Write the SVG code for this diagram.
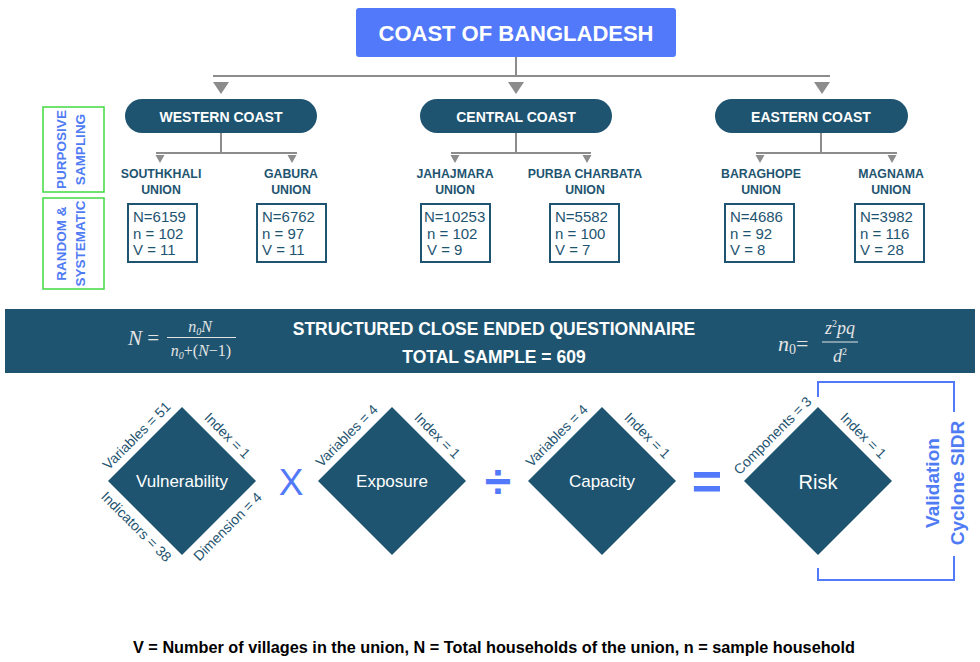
<svg xmlns="http://www.w3.org/2000/svg" width="980" height="662" viewBox="0 0 980 662">
<defs>
<style>
text{font-family:"Liberation Sans",Arial,sans-serif}
.b{font-weight:bold}
.pill{fill:#1E5470}
.pilltxt{fill:#fff;font-size:14px;font-weight:bold;text-anchor:middle}
.uni{fill:#1E5470;font-size:12.3px;font-weight:bold;text-anchor:middle}
.box{fill:#fff;stroke:#1E5470;stroke-width:2}
.boxtxt{fill:#1E5470;font-size:15px}
.gbox{fill:none;stroke:#4CDB4C;stroke-width:1.6}
.gtxt{fill:#4F7BF5;font-size:13.5px;font-weight:bold;text-anchor:middle;dominant-baseline:central}
.vtxt{fill:#4F7BF5;font-size:19px;font-weight:bold;text-anchor:middle;dominant-baseline:central}
.con{stroke:#8C8C8C;stroke-width:2;fill:none}
.tri{fill:#8C8C8C}
.dia{fill:#1E5470}
.dtxt{fill:#fff;font-size:17px;text-anchor:middle}
.risktxt{fill:#fff;font-size:20px;text-anchor:middle}
.edge{fill:#1E5470;font-size:14px;text-anchor:middle;dominant-baseline:central}
.op{fill:#5279F9;text-anchor:middle;dominant-baseline:central}
.math{font-family:"Liberation Serif","Times New Roman",serif;font-style:italic;fill:#E4E4E4}
.blue{stroke:#5279F9;stroke-width:2;fill:none}
</style>
<path id="bigtri" d="M-8,0 L8,0 L0,12 Z"/>
<path id="smtri" d="M-4.5,0 L4.5,0 L0,8 Z"/>
</defs>
<rect width="980" height="662" fill="#fff"/>

<g id="connectors">
<path class="con" d="M516,57 V76 M213,76 H830"/>
<use href="#bigtri" class="tri" x="221" y="82"/>
<use href="#bigtri" class="tri" x="516" y="82"/>
<use href="#bigtri" class="tri" x="822" y="82"/>
<path class="con" d="M221,133 V153 M156,153 H297"/>
<use href="#smtri" class="tri" x="160" y="155"/>
<use href="#smtri" class="tri" x="292" y="155"/>
<path class="con" d="M516,133 V153 M451,153 H591"/>
<use href="#smtri" class="tri" x="455" y="155"/>
<use href="#smtri" class="tri" x="587" y="155"/>
<path class="con" d="M821,133 V153 M756,153 H897"/>
<use href="#smtri" class="tri" x="760" y="155"/>
<use href="#smtri" class="tri" x="892" y="155"/>
<path class="blue" d="M818,397 V382 H954 V412 M954,556 V580 H818 V568"/>
</g>

<g id="title">
<rect x="356" y="8" width="320" height="49" rx="3" fill="#5279F9"/>
<text x="516" y="41" class="b" font-size="22" fill="#fff" text-anchor="middle">COAST OF BANGLADESH</text>
</g>

<g id="western-coast">
<rect class="pill" x="125" y="99" width="192" height="34" rx="17"/>
<text class="pilltxt" x="221" y="121.5">WESTERN COAST</text>
</g>
<g id="central-coast">
<rect class="pill" x="420" y="99" width="192" height="34" rx="17"/>
<text class="pilltxt" x="516" y="121.5">CENTRAL COAST</text>
</g>
<g id="eastern-coast">
<rect class="pill" x="715" y="99" width="193" height="34" rx="17"/>
<text class="pilltxt" x="811" y="121.5">EASTERN COAST</text>
</g>

<g id="purposive-sampling">
<rect class="gbox" x="43" y="107" width="61" height="85"/>
<text class="gtxt" transform="translate(61,149.5) rotate(-90)">PURPOSIVE</text>
<text class="gtxt" transform="translate(80,149.5) rotate(-90)">SAMPLING</text>
</g>
<g id="random-systematic">
<rect class="gbox" x="43" y="198" width="61" height="91"/>
<text class="gtxt" transform="translate(61,243.5) rotate(-90)">RANDOM &amp;</text>
<text class="gtxt" transform="translate(80,243.5) rotate(-90)">SYSTEMATIC</text>
</g>

<g id="southkhali">
<text class="uni" x="161" y="178">SOUTHKHALI</text>
<text class="uni" x="161" y="194">UNION</text>
<rect class="box" x="128" y="204" width="69" height="58"/>
<text class="boxtxt" x="133" y="222">N=6159</text>
<text class="boxtxt" x="133" y="239">n = 102</text>
<text class="boxtxt" x="133" y="255">V = 11</text>
</g>
<g id="gabura">
<text class="uni" x="291" y="178">GABURA</text>
<text class="uni" x="291" y="194">UNION</text>
<rect class="box" x="257" y="204" width="69" height="58"/>
<text class="boxtxt" x="262" y="222">N=6762</text>
<text class="boxtxt" x="262" y="239">n = 97</text>
<text class="boxtxt" x="262" y="255">V = 11</text>
</g>
<g id="jahajmara">
<text class="uni" x="455" y="178">JAHAJMARA</text>
<text class="uni" x="455" y="194">UNION</text>
<rect class="box" x="421" y="204" width="69" height="58"/>
<text class="boxtxt" x="424" y="222">N=10253</text>
<text class="boxtxt" x="427" y="239">n = 102</text>
<text class="boxtxt" x="427" y="255">V = 9</text>
</g>
<g id="purba-charbata">
<text class="uni" x="585" y="178">PURBA CHARBATA</text>
<text class="uni" x="585" y="194">UNION</text>
<rect class="box" x="550" y="204" width="69" height="58"/>
<text class="boxtxt" x="555" y="222">N=5582</text>
<text class="boxtxt" x="555" y="239">n = 100</text>
<text class="boxtxt" x="555" y="255">V = 7</text>
</g>
<g id="baraghope">
<text class="uni" x="761" y="178">BARAGHOPE</text>
<text class="uni" x="761" y="194">UNION</text>
<rect class="box" x="725" y="204" width="69" height="58"/>
<text class="boxtxt" x="730" y="222">N=4686</text>
<text class="boxtxt" x="730" y="239">n = 92</text>
<text class="boxtxt" x="730" y="255">V = 8</text>
</g>
<g id="magnama">
<text class="uni" x="891" y="178">MAGNAMA</text>
<text class="uni" x="891" y="194">UNION</text>
<rect class="box" x="855" y="204" width="69" height="58"/>
<text class="boxtxt" x="860" y="222">N=3982</text>
<text class="boxtxt" x="860" y="239">n = 116</text>
<text class="boxtxt" x="860" y="255">V = 28</text>
</g>

<g id="questionnaire-band">
<rect x="5" y="309" width="970" height="64" fill="#1E5470"/>
<text x="494" y="335" class="b" font-size="17.5" fill="#fff" text-anchor="middle">STRUCTURED CLOSE ENDED QUESTIONNAIRE</text>
<text x="494" y="363" class="b" font-size="17.5" fill="#fff" text-anchor="middle">TOTAL SAMPLE = 609</text>
<text class="math" x="128" y="345" font-size="21">N <tspan font-style="normal">=</tspan></text>
<text class="math" x="200" y="332" font-size="16" text-anchor="middle">n<tspan font-size="10" dy="3">0</tspan><tspan dy="-3">N</tspan></text>
<line x1="167" y1="337.5" x2="236" y2="337.5" stroke="#E4E4E4" stroke-width="1.2"/>
<text class="math" x="201" y="356" font-size="16" text-anchor="middle">n<tspan font-size="10" dy="3">0</tspan><tspan dy="-3" font-style="normal">+(</tspan>N<tspan font-style="normal">−1)</tspan></text>
<text class="math" x="778" y="351" font-size="22">n<tspan font-size="14" dy="3" font-style="normal">0</tspan><tspan dy="-3" font-style="normal">=</tspan></text>
<text class="math" x="840" y="334" font-size="18" text-anchor="middle">z<tspan font-size="10" dy="-7" font-style="normal">2</tspan><tspan dy="7">pq</tspan></text>
<line x1="822" y1="342" x2="858" y2="342" stroke="#E4E4E4" stroke-width="1.2"/>
<text class="math" x="840" y="362" font-size="18" text-anchor="middle">d<tspan font-size="10" dy="-7" font-style="normal">2</tspan></text>
</g>

<g id="vulnerability">
<polygon class="dia" points="182,407 256,481 182,555 108,481"/>
<text class="dtxt" x="182" y="487">Vulnerability</text>
<text class="edge" transform="translate(136.5,435.5) rotate(-45)">Variables = 51</text>
<text class="edge" transform="translate(227.5,435.5) rotate(45)">Index = 1</text>
<text class="edge" transform="translate(136.5,526.5) rotate(45)">Indicators = 38</text>
<text class="edge" transform="translate(227.5,526.5) rotate(-45)">Dimension = 4</text>
</g>
<g id="exposure">
<polygon class="dia" points="392,407 466,481 392,555 318,481"/>
<text class="dtxt" x="392" y="487">Exposure</text>
<text class="edge" transform="translate(346.5,435.5) rotate(-45)">Variables = 4</text>
<text class="edge" transform="translate(437.5,435.5) rotate(45)">Index = 1</text>
</g>
<g id="capacity">
<polygon class="dia" points="602,407 676,481 602,555 528,481"/>
<text class="dtxt" x="602" y="487">Capacity</text>
<text class="edge" transform="translate(556.5,435.5) rotate(-45)">Variables = 4</text>
<text class="edge" transform="translate(647.5,435.5) rotate(45)">Index = 1</text>
</g>
<g id="risk">
<polygon class="dia" points="818,407 892,481 818,555 744,481"/>
<text class="risktxt" x="818" y="489">Risk</text>
<text class="edge" transform="translate(772.5,435.5) rotate(-45)">Components = 3</text>
<text class="edge" transform="translate(863.5,435.5) rotate(45)">Index = 1</text>
</g>

<g id="operators">
<text class="op" x="291" y="482" font-size="37">X</text>
<text class="op" x="498" y="481" font-size="48" font-weight="bold">÷</text>
<text class="op" x="707" y="481" font-size="52" font-weight="bold">=</text>
</g>

<g id="validation">
<text class="vtxt" transform="translate(932,483) rotate(-90)">Validation</text>
<text class="vtxt" transform="translate(957,483) rotate(-90)">Cyclone SIDR</text>
</g>

<g id="caption">
<text x="494" y="653" class="b" font-size="17" fill="#000" text-anchor="middle" textLength="722" lengthAdjust="spacingAndGlyphs">V = Number of villages in the union, N = Total households of the union, n = sample household</text>
</g>
</svg>
